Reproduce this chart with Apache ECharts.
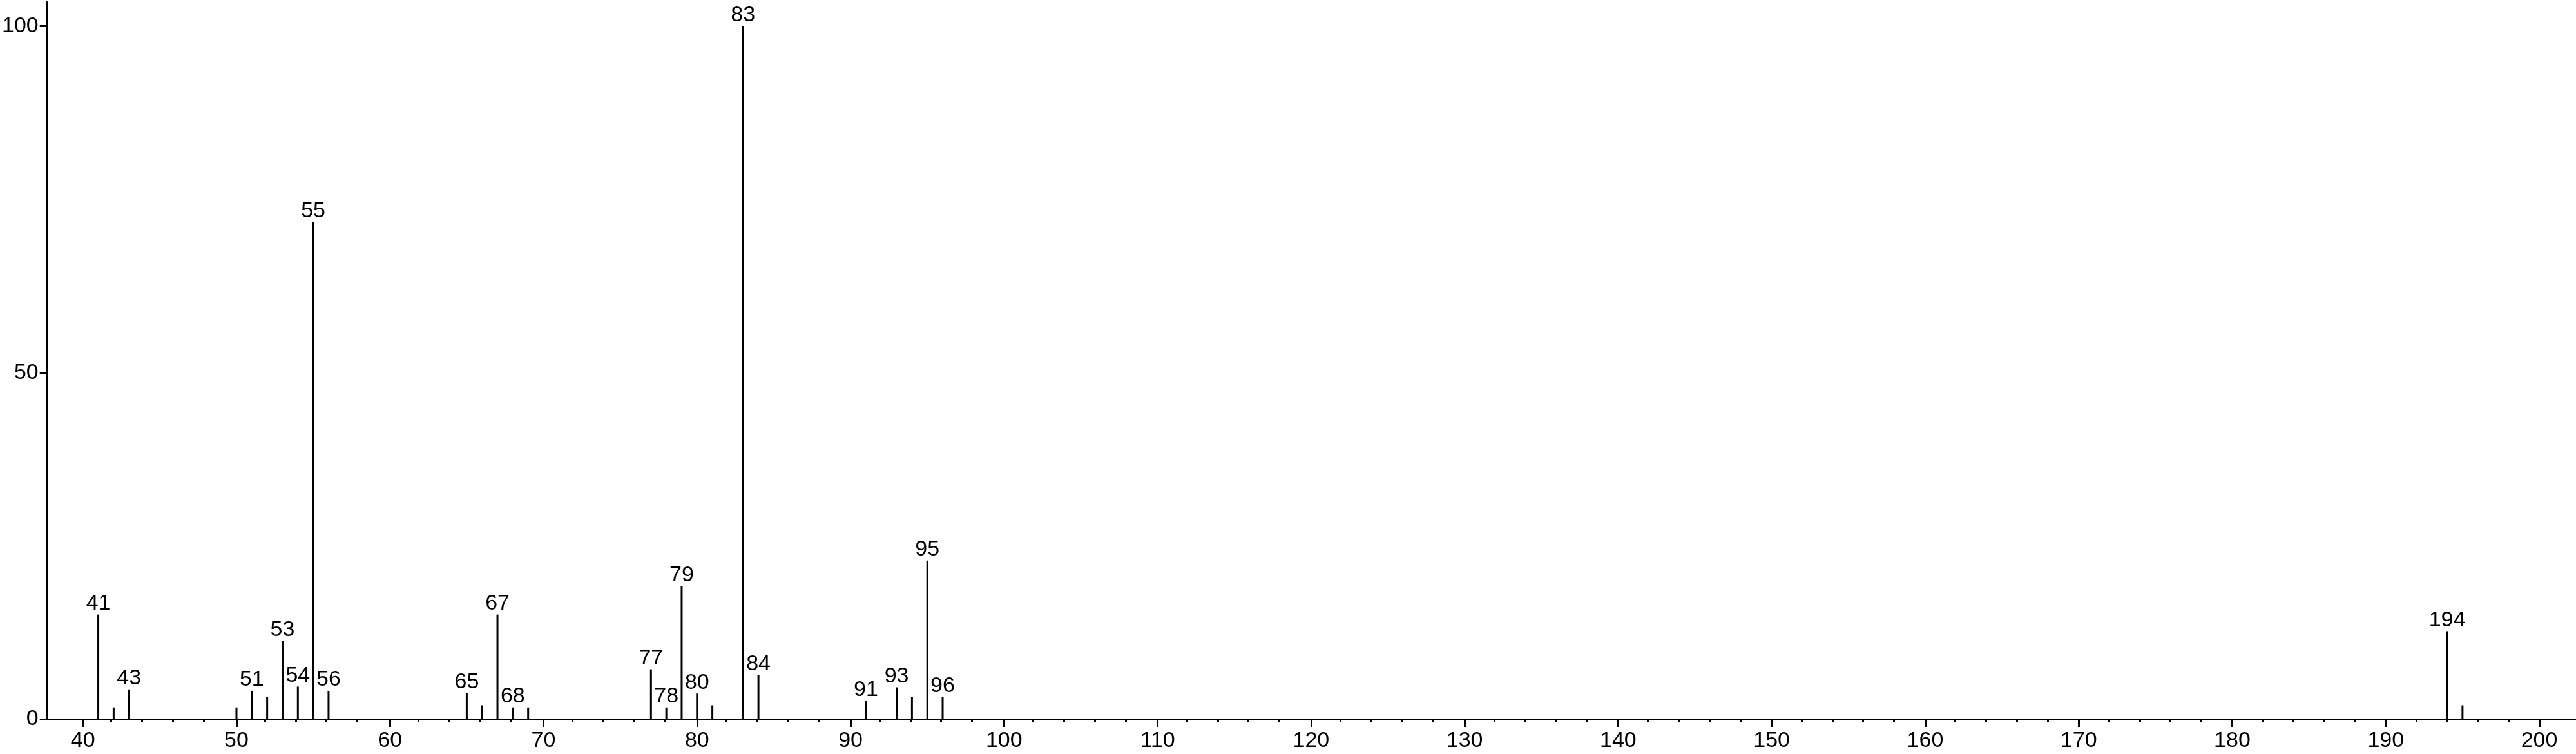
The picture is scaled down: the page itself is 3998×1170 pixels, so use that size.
<!DOCTYPE html>
<html>
<head>
<meta charset="utf-8">
<script src="https://cdn.jsdelivr.net/npm/echarts@6/dist/echarts.min.js"></script>
<style>
html,body{margin:0;padding:0;background:#fff;}
#chart{width:3998px;height:1170px;}
</style>
</head>
<body>
<div id="chart"></div>
<script>
// m/z values of the peaks
const mz = [41, 42, 43, 50, 51, 52, 53, 54, 55, 56, 65, 66, 67, 68, 69, 77, 78, 79, 80, 81, 83, 84, 91, 93, 94, 95, 96, 194, 195];
// relative intensities (%)
const intensity = [15.1, 1.7, 4.3, 1.7, 4.1, 3.2, 11.3, 4.7, 71.7, 4.1, 3.8, 2.0, 15.1, 1.7, 1.7, 7.2, 1.7, 19.2, 3.7, 2.0, 100, 6.4, 2.6, 4.6, 3.2, 22.9, 3.2, 12.7, 2.0];
// peaks carrying a label
const labeledMz = [41, 43, 51, 53, 54, 55, 56, 65, 67, 68, 77, 78, 79, 80, 83, 84, 91, 93, 95, 96, 194];
// axis tick labels
const xTickLabels = [40, 50, 60, 70, 80, 90, 100, 110, 120, 130, 140, 150, 160, 170, 180, 190, 200];
const yTickLabels = [0, 50, 100];

const xMin = 37.65, xMax = 202.35, yMax = 103.5;
const xMinorTicks = [];
for (let v = 42; v <= 198; v += 2) { if (v % 10 !== 0) xMinorTicks.push(v); }

const FONT = 'Liberation Sans';
const FS = 34;

const data = mz.map((m, i) => {
  const item = { value: [m, intensity[i]] };
  if (labeledMz.indexOf(m) >= 0) item.label = { show: true };
  return item;
});

const gridBox = { left: 69, right: 1, top: 3, bottom: 54 };

const chart = echarts.init(document.getElementById('chart'), null, { renderer: 'canvas' });
chart.setOption({
  animation: false,
  backgroundColor: '#fff',
  grid: [Object.assign({}, gridBox), Object.assign({}, gridBox)],
  xAxis: [{
    type: 'value', gridIndex: 0, min: xMin, max: xMax,
    axisLine: { show: true, lineStyle: { color: '#000', width: 3 } },
    axisTick: { show: true, customValues: xTickLabels, length: 12, inside: false, lineStyle: { color: '#000', width: 3 } },
    axisLabel: { show: true, customValues: xTickLabels, color: '#000', fontFamily: FONT, fontSize: FS, margin: 17 },
    splitLine: { show: false }
  }, {
    type: 'value', gridIndex: 1, min: xMin, max: xMax, position: 'bottom',
    axisLine: { show: false },
    axisTick: { show: true, customValues: xMinorTicks, length: 5, inside: false, lineStyle: { color: '#000', width: 3 } },
    axisLabel: { show: false },
    splitLine: { show: false }
  }],
  yAxis: [{
    type: 'value', gridIndex: 0, min: 0, max: yMax,
    axisLine: { show: true, lineStyle: { color: '#000', width: 3 } },
    axisTick: { show: true, customValues: yTickLabels, length: 11, inside: false, lineStyle: { color: '#000', width: 3 } },
    axisLabel: { show: true, customValues: yTickLabels, color: '#000', fontFamily: FONT, fontSize: FS, margin: 13 },
    splitLine: { show: false }
  }, {
    type: 'value', gridIndex: 1, min: 0, max: yMax, show: false
  }],
  series: [{
    type: 'bar',
    xAxisIndex: 0, yAxisIndex: 0,
    barWidth: 3,
    itemStyle: { color: '#000' },
    label: {
      show: false, position: 'top', distance: 0,
      color: '#000', fontFamily: FONT, fontSize: FS,
      formatter: p => String(p.value[0])
    },
    data: data
  }]
});
</script>
</body>
</html>
